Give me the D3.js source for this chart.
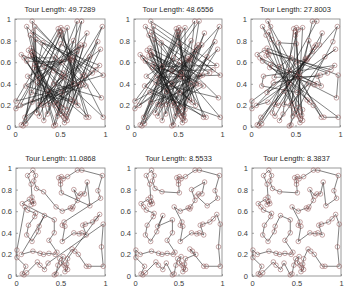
<!DOCTYPE html>
<html>
<head>
<meta charset="utf-8">
<script src="https://cdn.jsdelivr.net/npm/d3@7"></script>
<style>
  body { margin: 0; background: #fff; }
  text { font-family: "Liberation Sans", Arial, sans-serif; }
</style>
</head>
<body>
<div id="vis"></div>
<script>
/*************** DATA ***************/
// city locations, listed in the order of the best (last) tour
var cityX = [0.07,0.15,0.17,0.19,0.20,0.18,0.17,0.13,0.19,0.22,
             0.20,0.23,0.31,0.51,0.50,0.50,0.48,0.51,0.53,0.58,
             0.69,0.74,0.97,0.92,0.95,0.83,0.80,0.77,0.73,0.71,
             0.65,0.69,0.64,0.63,0.61,0.52,0.45,0.54,0.52,0.55,
             0.52,0.65,0.71,0.74,0.79,0.75,0.78,0.86,0.90,0.94,
             0.98,0.96,0.98,0.82,0.79,0.70,0.66,0.63,0.58,0.57,
             0.58,0.55,0.56,0.54,0.51,0.53,0.49,0.47,0.45,0.43,
             0.36,0.32,0.27,0.24,0.12,0.09,0.07,0.11,0.01,0.01,
             0.06,0.19,0.27,0.31,0.37,0.44,0.46,0.37,0.43,0.43,
             0.32,0.26,0.25,0.18,0.12,0.14,0.21,0.22,0.13,0.10];
var cityY = [0.67,0.71,0.66,0.69,0.67,0.73,0.85,0.93,0.98,0.93,
             0.88,0.81,0.78,0.77,0.85,0.88,0.91,0.92,0.90,0.92,
             0.98,0.98,0.93,0.79,0.72,0.65,0.87,0.76,0.76,0.74,
             0.80,0.70,0.64,0.62,0.63,0.60,0.64,0.50,0.47,0.46,
             0.32,0.40,0.39,0.40,0.38,0.47,0.48,0.50,0.53,0.57,
             0.48,0.27,0.09,0.09,0.09,0.20,0.23,0.25,0.16,0.11,
             0.06,0.04,0.08,0.10,0.12,0.18,0.16,0.10,0.02,0.01,
             0.12,0.06,0.10,0.13,0.03,0.01,0.02,0.09,0.17,0.24,
             0.20,0.23,0.21,0.20,0.21,0.20,0.22,0.33,0.40,0.52,
             0.56,0.46,0.41,0.32,0.38,0.47,0.55,0.58,0.61,0.64];

var tourLengths = ['49.7289', '48.6556', '27.8003', '11.0868', '8.5533', '8.3837'];

// visiting order of each snapshot of the tour (indices into the city arrays)
var tour1 = [0,37,74,11,48,85,22,59,96,33,70,7,44,81,18,55,92,29,66,3,
             40,77,14,51,88,25,62,99,36,73,10,47,84,21,58,95,32,69,6,43,
             80,17,54,91,28,65,2,39,76,13,50,87,24,61,98,35,72,9,46,83,
             20,57,94,31,68,5,42,79,16,53,90,27,64,1,38,75,12,49,86,23,
             60,97,34,71,8,45,82,19,56,93,30,67,4,41,78,15,52,89,26,63];
var tour2 = [0,59,18,77,36,95,54,13,72,31,90,49,8,67,26,85,44,3,62,21,
             80,39,98,57,16,75,34,93,52,11,70,29,88,47,6,65,24,83,42,1,
             60,19,78,37,96,55,14,73,32,91,50,9,68,27,86,45,4,63,22,81,
             40,99,58,17,76,35,94,53,12,71,30,89,48,7,66,25,84,43,2,61,
             20,79,38,97,56,15,74,33,92,51,10,69,28,87,46,5,64,23,82,41];
var tour3 = [0,1,47,46,92,93,38,39,84,85,30,31,76,77,22,23,69,68,14,15,
             60,61,6,7,53,52,98,99,44,45,91,90,36,37,83,82,28,29,74,75,
             21,20,66,67,12,13,59,58,4,5,50,51,97,96,42,43,89,88,34,35,
             80,81,27,26,72,73,18,19,65,64,10,11,57,56,2,3,48,49,95,94,
             40,41,86,87,32,33,79,78,24,25,71,70,16,17,63,62,8,9,54,55];
var tour4 = [0,1,2,3,4,5,6,7,8,9,10,11,12,36,35,34,33,32,31,30,
             29,28,27,26,25,13,14,15,16,17,18,19,20,21,22,23,24,37,38,39,
             40,41,42,43,44,45,46,47,48,49,58,59,60,61,62,63,64,65,66,67,
             68,69,57,56,55,54,53,52,51,50,70,71,72,73,74,75,76,77,78,79,
             99,98,97,96,95,94,93,92,91,90,80,81,82,83,84,85,86,87,88,89];
var tour5 = [0,1,2,3,4,5,6,7,8,9,10,11,12,13,14,15,16,17,18,19,
             20,21,22,23,24,25,29,28,27,26,30,31,32,33,34,35,36,37,38,39,
             40,41,42,43,44,45,46,47,48,49,50,51,52,53,54,57,56,55,58,59,
             60,61,62,63,64,65,66,67,68,69,70,71,72,73,74,75,76,77,78,79,
             80,81,82,83,84,85,86,87,88,89,91,90,92,93,94,95,96,97,98,99];
var tour6 = [0,1,2,3,4,5,6,7,8,9,10,11,12,13,14,15,16,17,18,19,
             20,21,22,23,24,25,26,27,28,29,30,31,32,33,34,35,36,37,38,39,
             40,41,42,43,44,45,46,47,48,49,50,51,52,53,54,55,56,57,58,59,
             60,61,62,63,64,65,66,67,68,69,70,71,72,73,74,75,76,77,78,79,
             80,81,82,83,84,85,86,87,88,89,90,91,92,93,94,95,96,97,98,99];

var tours = [tour1, tour2, tour3, tour4, tour5, tour6];

var xTicks = [0, 0.5, 1];
var yTicks = [0, 0.2, 0.4, 0.6, 0.8, 1];

/*************** LAYOUT ***************/
const width = 347;
const height = 292;
// plot box of each panel: left, right, top, bottom
const boxes = [
  { l: 15,  r: 105, t: 19,  b: 127 },
  { l: 134, r: 222, t: 19,  b: 127 },
  { l: 251, r: 340, t: 19,  b: 127 },
  { l: 16,  r: 105, t: 168, b: 276 },
  { l: 135, r: 222, t: 168, b: 276 },
  { l: 252, r: 341, t: 168, b: 276 }
];

var svg = d3.select('#vis')
  .append('svg')
  .attr('width', width)
  .attr('height', height);

var cities = cityX.map((x, i) => ({ x: x, y: cityY[i] }));

boxes.forEach(function(box, p) {
  var x = d3.scaleLinear().domain([0, 1]).range([box.l, box.r]);
  var y = d3.scaleLinear().domain([0, 1]).range([box.b, box.t]);

  var g = svg.append('g').attr('class', 'panel');

  // white plot area with frame
  g.append('rect')
    .attr('x', box.l).attr('y', box.t)
    .attr('width', box.r - box.l).attr('height', box.b - box.t)
    .attr('fill', '#fff')
    .attr('stroke', '#808080')
    .attr('stroke-width', 0.8);

  // axes, ticks point inside like matlab
  var xAxis = d3.axisBottom(x).tickValues(xTicks).tickSize(-2).tickPadding(5)
    .tickFormat(d3.format(''));
  var yAxis = d3.axisLeft(y).tickValues(yTicks).tickSize(-2).tickPadding(4)
    .tickFormat(d3.format(''));

  var gx = g.append('g').attr('transform', 'translate(0,' + box.b + ')').call(xAxis);
  var gy = g.append('g').attr('transform', 'translate(' + box.l + ',0)').call(yAxis);
  [gx, gy].forEach(function(a) {
    a.select('.domain').remove();
    a.selectAll('line').attr('stroke', '#808080').attr('stroke-width', 0.7);
    a.selectAll('text')
      .attr('fill', '#3a3a3a')
      .style('font-size', '7.5px');
  });

  // tour as a closed path
  var order = tours[p];
  var pts = order.map(i => cities[i]);
  pts.push(cities[order[0]]);
  var line = d3.line().x(d => x(d.x)).y(d => y(d.y));

  g.append('path')
    .attr('d', line(pts))
    .attr('fill', 'none')
    .attr('stroke', '#1a1a1a')
    .attr('stroke-width', 0.65)
    .attr('stroke-opacity', 0.85);

  // city markers
  g.selectAll('.city')
    .data(cities)
    .enter()
    .append('circle')
    .attr('class', 'city')
    .attr('cx', d => x(d.x))
    .attr('cy', d => y(d.y))
    .attr('r', 2.3)
    .attr('fill', 'none')
    .attr('stroke', '#8e5252')
    .attr('stroke-width', 0.6)
    .attr('stroke-opacity', 0.85);

  // title
  g.append('text')
    .attr('x', (box.l + box.r) / 2)
    .attr('y', box.t - 7.5)
    .attr('text-anchor', 'middle')
    .attr('fill', '#2a2a2a')
    .style('font-size', '7.5px')
    .text('Tour Length: ' + tourLengths[p]);
});
</script>
</body>
</html>
